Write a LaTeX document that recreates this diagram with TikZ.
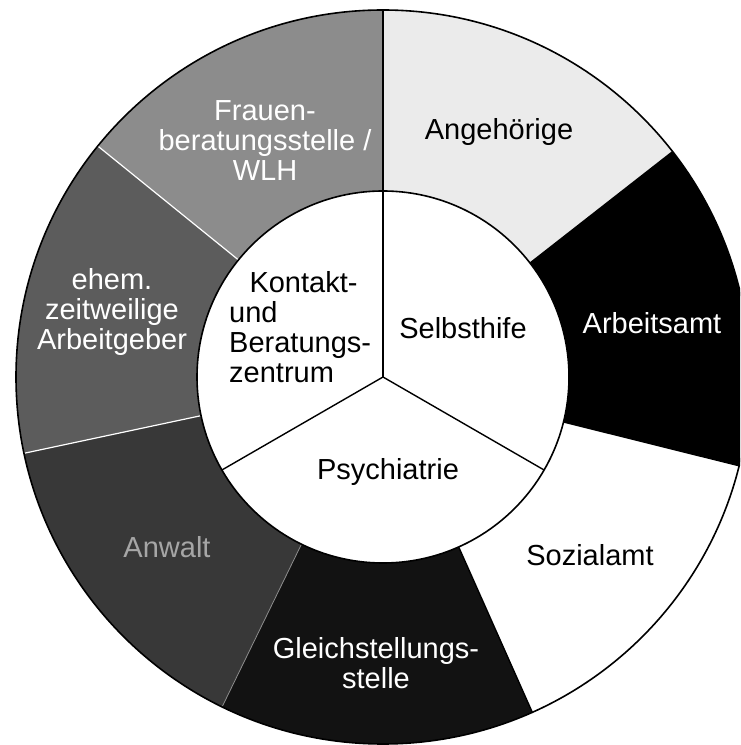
\documentclass[tikz,border=0pt]{standalone}
\usepackage{fontspec}
\setmainfont{Liberation Sans}
\begin{document}
\begin{tikzpicture}[x=1pt,y=1pt,
  lbl/.style={font=\fontsize{29}{30}\selectfont, align=center, inner sep=0pt},
  ringline/.style={line width=1.6pt, draw=black},
  sepw/.style={line width=1.2pt, draw=white},
  sepb/.style={line width=1.4pt, draw=black}]
\clip (0,0) rectangle (740,745);
\fill[white] (0,0) rectangle (740,745);
\def\Ro{367}
\def\Ri{186}
\newcommand\ringsector[3]{%
  \fill[#3, shift={(383,368)}] (#1:\Ro) arc[start angle=#1, end angle=#2, radius=\Ro]
    -- (#2:\Ri) arc[start angle=#2, end angle=#1, radius=\Ri] -- cycle;}
\coordinate (c) at (383,368);
% outer ring sectors
\ringsector{38}{90}{black!8}
\ringsector{90}{141}{black!45}
\ringsector{141}{192}{black!64}
\ringsector{192}{244}{black!78}
\ringsector{244}{294}{black!93}
\ringsector{294}{346}{white}
\ringsector{-14}{38}{black}
% separators
\begin{scope}[shift={(383,368)}]
  \draw[sepb] (90:\Ri) -- (90:\Ro);
  \draw[sepw] (141:\Ri) -- (141:\Ro);
  \draw[sepw] (192:\Ri) -- (192:\Ro);
  \draw[line width=0.8pt, draw=black!45] (244:\Ri) -- (244:\Ro);
  \draw[sepb] (294:\Ri) -- (294:\Ro);
  \draw[sepb] (346:\Ri) -- (346:\Ro);
  \draw[ringline] (0,0) circle[radius=\Ro];
  \draw[ringline, fill=white] (0,0) circle[radius=\Ri];
  \coordinate (i1) at (90:\Ri);
  \coordinate (i2) at (210:\Ri);
  \coordinate (i3) at (330:\Ri);
\end{scope}
\draw[sepb] (c) -- (i1);
\draw[sepb] (c) -- (i2);
\draw[sepb] (c) -- (i3);
% outer labels
\node[lbl, text=white] (frauen) at (265,604) {Frauen-\\beratungsstelle /\\WLH};
\node[lbl, text=white] (ehem) at (112,433) {ehem.\\zeitweilige\\Arbeitgeber};
\node[lbl, text=black!35] (anwalt) at (167,198) {Anwalt};
\node[lbl, text=white] (gleich) at (376,82) {Gleichstellungs-\\stelle};
\node[lbl] (sozial) at (590,190) {Sozialamt};
\node[lbl, text=white] (arbeit) at (652,422) {Arbeitsamt};
\node[lbl] (angeh) at (499,613) {Angehörige};
% inner labels
\node[lbl] (selbst) at (463,417) {Selbsthife};
\node[lbl, align=left, anchor=west] (kontakt) at (229,418) {\hspace*{0.7em}Kontakt-\\und\\Beratungs-\\zentrum};
\node[lbl] (psych) at (388,273) {Psychiatrie};
\end{tikzpicture}
\end{document}
